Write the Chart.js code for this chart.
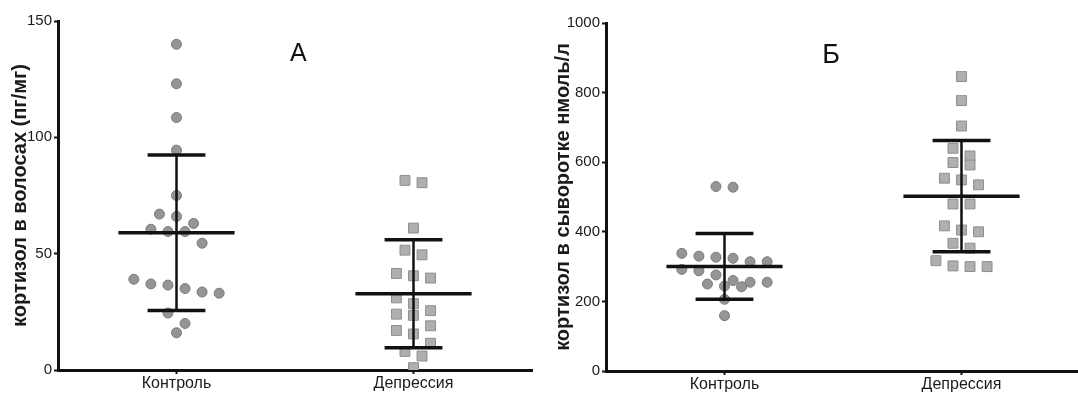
<!DOCTYPE html>
<html>
<head>
<meta charset="utf-8">
<script src="https://cdn.jsdelivr.net/npm/chart.js@4"></script>
<style>
  html, body { margin: 0; padding: 0; background: #fff; overflow: hidden; }
  #wrap { position: relative; width: 1078px; height: 405px; }
  #boxA { position: absolute; left: 0; top: 0; width: 540px; height: 405px; }
  #boxB { position: absolute; left: 540px; top: 0; width: 548px; height: 405px; }
</style>
</head>
<body>
<div id="wrap">
  <div id="boxA"><canvas id="hair-canvas"></canvas></div>
  <div id="boxB"><canvas id="serum-canvas"></canvas></div>
</div>
<script>
// groups on the x axis
var categories = ["Контроль", "Депрессия"];

// panel A: hair cortisol, pg/mg
var hairControl = [140, 123, 108.5, 94.5, 75, 67, 66, 63, 60.5, 59.5, 59.5, 54.5, 39, 37, 36.5, 35, 33.5, 33, 24.5, 20, 16];
var hairDepression = [81.5, 80.5, 61, 51.5, 49.5, 41.5, 40.5, 39.5, 31, 28.5, 25.5, 24, 23.5, 19, 17, 15.5, 11.5, 8, 6, 1];
var hairMean = [59, 32.8];
var hairSd = [33.4, 23.2];
var hairTicks = [0, 50, 100, 150];

// panel B: serum cortisol, nmol/l
var serumControl = [530, 528, 338, 330, 327, 324, 314, 314, 292, 288, 276, 260, 255, 255, 250, 244, 242, 206, 159];
var serumDepression = [846, 777, 704, 640, 618, 599, 592, 554, 549, 535, 480, 480, 417, 405, 400, 367, 353, 317, 302, 300, 300];
var serumMean = [300.5, 502.5];
var serumSd = [94.5, 159.5];
var serumTicks = [0, 200, 400, 600, 800, 1000];

var FONT = '"Liberation Sans", Arial, sans-serif';
var INK = "#111";

// spread points of similar value side by side (scatter dot plot layout)
function swarm(values, center, bin, step) {
  var sorted = values.slice().sort(function (a, b) { return b - a; });
  var pts = [];
  var row = [];
  function flush() {
    row.forEach(function (v, k) {
      pts.push({ x: center + (k - (row.length - 1) / 2) * step, y: v });
    });
    row = [];
  }
  sorted.forEach(function (v) {
    if (row.length && row[0] - v > bin) flush();
    row.push(v);
  });
  flush();
  return pts;
}

function barLine(points, width) {
  return {
    data: points,
    showLine: true,
    borderColor: INK,
    borderWidth: width,
    pointRadius: 0,
    order: 0,
  };
}

// mean line, sd whisker and caps for one group
function errorBars(i, mean, sd) {
  var lo = mean - sd, hi = mean + sd;
  return [
    barLine([{ x: i - 0.245, y: mean }, { x: i + 0.245, y: mean }], 3.5),
    barLine([{ x: i, y: lo }, { x: i, y: hi }], 2.5),
    barLine([{ x: i - 0.122, y: hi }, { x: i + 0.122, y: hi }], 3.5),
    barLine([{ x: i - 0.122, y: lo }, { x: i + 0.122, y: lo }], 3.5),
  ];
}

var panelLetter = {
  id: "panelLetter",
  afterDraw: function (chart, args, opts) {
    var ctx = chart.ctx, area = chart.chartArea;
    ctx.save();
    ctx.font = opts.size + "px " + FONT;
    ctx.fillStyle = INK;
    ctx.textAlign = "center";
    ctx.textBaseline = "middle";
    ctx.fillText(opts.text, area.left + (area.right - area.left) * opts.at, opts.y);
    ctx.restore();
  },
};

function makeChart(canvasId, opts) {
  var datasets = [
    {
      data: swarm(opts.control, 0, opts.bin, 0.072),
      pointStyle: "circle",
      pointRadius: 5,
      backgroundColor: "#959595",
      borderColor: "#7a7a7a",
      borderWidth: 1,
      order: 1,
    },
    {
      data: swarm(opts.depression, 1, opts.bin, 0.072),
      pointStyle: "rect",
      pointRadius: 7,
      backgroundColor: "#afafaf",
      borderColor: "#8e8e8e",
      borderWidth: 1,
      order: 1,
    },
  ];
  for (var i = 0; i < categories.length; i++) {
    datasets = datasets.concat(errorBars(i, opts.mean[i], opts.sd[i]));
  }

  return new Chart(document.getElementById(canvasId), {
    type: "scatter",
    data: { datasets: datasets },
    plugins: [panelLetter],
    options: {
      responsive: true,
      maintainAspectRatio: false,
      animation: false,
      layout: { padding: opts.padding },
      plugins: {
        legend: { display: false },
        tooltip: { enabled: false },
        panelLetter: opts.letter,
      },
      scales: {
        x: {
          type: "linear",
          min: -0.5,
          max: 1.5,
          afterBuildTicks: function (s) {
            s.ticks = categories.map(function (c, k) { return { value: k }; });
          },
          afterFit: function (s) { s.height = opts.xHeight; },
          border: { display: true, color: INK, width: 3 },
          grid: { drawOnChartArea: false, drawTicks: true, tickLength: 4, tickWidth: 2, color: INK },
          ticks: {
            color: "#1a1a1a",
            padding: 0,
            maxRotation: 0,
            font: { family: FONT, size: 16 },
            callback: function (v) { return categories[v]; },
          },
        },
        y: {
          type: "linear",
          min: opts.ticks[0],
          max: opts.ticks[opts.ticks.length - 1],
          afterBuildTicks: function (s) {
            s.ticks = opts.ticks.map(function (v) { return { value: v }; });
          },
          afterFit: function (s) { s.width = opts.yWidth; },
          border: { display: true, color: INK, width: 3 },
          grid: { drawOnChartArea: false, drawTicks: true, tickLength: 4, tickWidth: 2, color: INK },
          ticks: {
            color: "#1a1a1a",
            padding: 2,
            font: { family: FONT, size: 15 },
            callback: function (v) { return String(v); },
          },
          title: {
            display: true,
            text: opts.title,
            color: "#1a1a1a",
            font: { family: FONT, size: 20, weight: "bold" },
            padding: { top: opts.titlePad, bottom: 0 },
          },
        },
      },
    },
  });
}

var hairChart = makeChart("hair-canvas", {
  control: hairControl,
  depression: hairDepression,
  mean: hairMean,
  sd: hairSd,
  ticks: hairTicks,
  bin: 6,
  title: "кортизол в волосах (пг/мг)",
  titlePad: 8,
  yWidth: 58,
  xHeight: 35,
  padding: { left: 0, right: 7, top: 21, bottom: 0 },
  letter: { text: "А", size: 25, at: 0.507, y: 54 },
});

var serumChart = makeChart("serum-canvas", {
  control: serumControl,
  depression: serumDepression,
  mean: serumMean,
  sd: serumSd,
  ticks: serumTicks,
  bin: 40,
  title: "кортизол в сыворотке нмоль/л",
  titlePad: 11,
  yWidth: 66,
  xHeight: 34,
  padding: { left: 0, right: 0, top: 23, bottom: 0 },
  letter: { text: "Б", size: 27, at: 0.475, y: 56 },
});
</script>
</body>
</html>
